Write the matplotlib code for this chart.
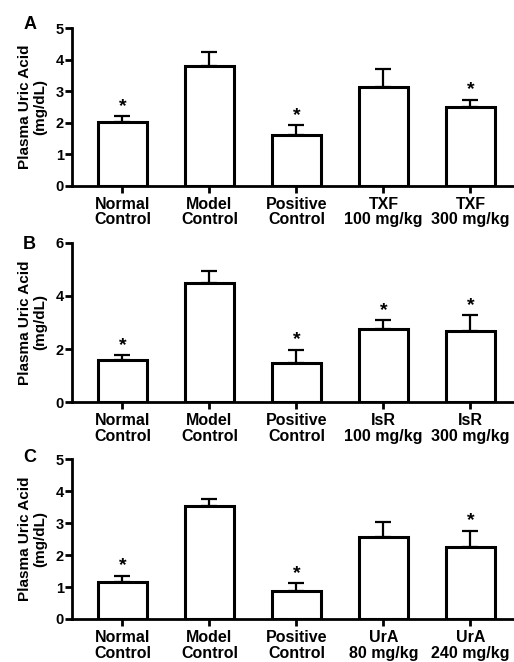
import numpy as np
import matplotlib.pyplot as plt

plt.rcParams["font.family"] = ["Liberation Sans", "DejaVu Sans"]
plt.rcParams["font.weight"] = "bold"

# panel A
labels_a = ["Normal\nControl", "Model\nControl", "Positive\nControl", "TXF\n100 mg/kg", "TXF\n300 mg/kg"]
means_a = [2.01, 3.78, 1.61, 3.14, 2.51]
sem_a = [0.20, 0.45, 0.31, 0.56, 0.21]
star_a = [True, False, True, False, True]

# panel B
labels_b = ["Normal\nControl", "Model\nControl", "Positive\nControl", "IsR\n100 mg/kg", "IsR\n300 mg/kg"]
means_b = [1.59, 4.50, 1.49, 2.74, 2.69]
sem_b = [0.18, 0.44, 0.48, 0.35, 0.58]
star_b = [True, False, True, True, True]

# panel C
labels_c = ["Normal\nControl", "Model\nControl", "Positive\nControl", "UrA\n80 mg/kg", "UrA\n240 mg/kg"]
means_c = [1.17, 3.54, 0.89, 2.58, 2.25]
sem_c = [0.19, 0.21, 0.23, 0.47, 0.52]
star_c = [True, False, True, False, True]

panels = [
    ("A", labels_a, means_a, sem_a, star_a, 5, [0, 1, 2, 3, 4, 5], [0.140, 0.7195, 0.860, 0.2382], 0.976),
    ("B", labels_b, means_b, sem_b, star_b, 6, [0, 2, 4, 6], [0.140, 0.3923, 0.860, 0.2411], 0.644),
    ("C", labels_c, means_c, sem_c, star_c, 5, [0, 1, 2, 3, 4, 5], [0.140, 0.0650, 0.860, 0.2412], 0.321),
]

fig = plt.figure(figsize=(5.14, 6.62), dpi=100)

for letter, labels, means, sem, stars, ymax, yticks, rect, ly in panels:
    ax = fig.add_axes(rect)
    x = np.arange(len(labels))
    ax.bar(x, means, width=0.57, color="white", edgecolor="black", linewidth=2.2, zorder=2)
    ax.errorbar(x, means, yerr=[np.zeros(len(sem)), sem], fmt="none", ecolor="black",
                elinewidth=1.6, capsize=6, capthick=1.6, zorder=1)
    for xi, m, s, st in zip(x, means, sem, stars):
        if st:
            ax.annotate("*", (xi, m + s), xytext=(0, 1), textcoords="offset points",
                        ha="center", va="bottom", fontsize=14, fontweight="bold")
    ax.set_xlim(-0.58, 4.5)
    ax.set_ylim(0, ymax)
    ax.set_yticks(yticks)
    ax.set_xticks(x)
    ax.set_xticklabels(labels, fontsize=11.5, fontweight="bold", linespacing=1.05)
    ax.tick_params(axis="y", labelsize=10.5, width=2, length=5, pad=1)
    ax.tick_params(axis="x", width=2, length=5, pad=3)
    for t in ax.get_yticklabels():
        t.set_fontweight("bold")
    ax.spines["top"].set_visible(False)
    ax.spines["right"].set_visible(False)
    ax.spines["left"].set_linewidth(2)
    ax.spines["bottom"].set_linewidth(2)
    ax.set_ylabel("Plasma Uric Acid\n(mg/dL)", fontsize=11, fontweight="bold", labelpad=6,
                  linespacing=1.05)
    fig.text(0.045, ly, letter, fontsize=13, fontweight="bold", ha="left", va="top")

fig.savefig("out.png", dpi=100)
